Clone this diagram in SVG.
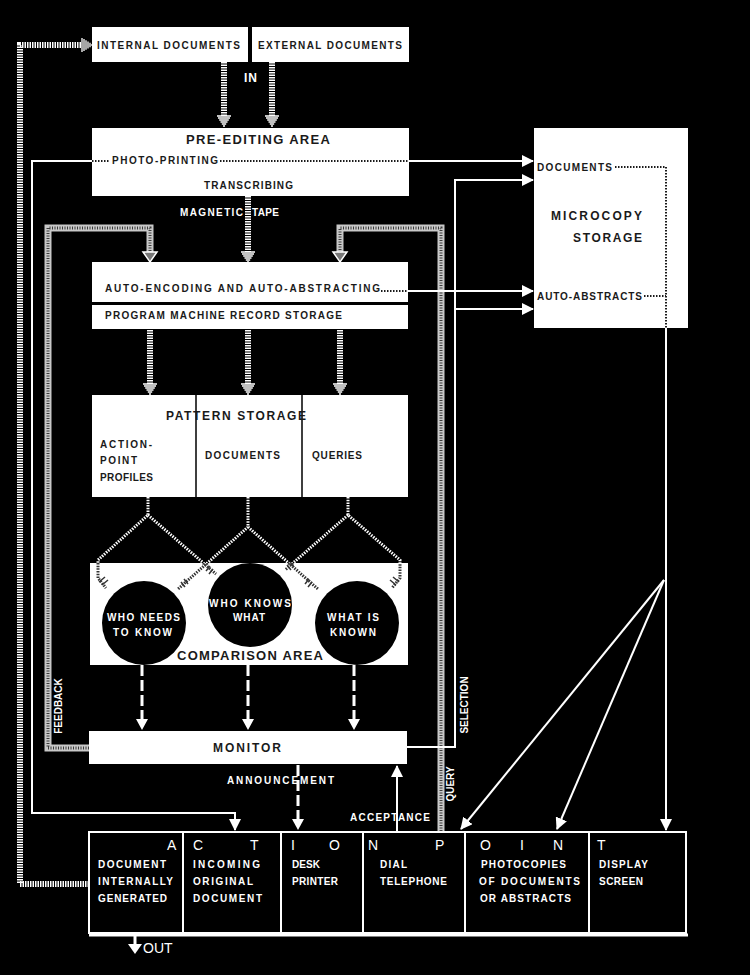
<svg xmlns="http://www.w3.org/2000/svg" xmlns:xlink="http://www.w3.org/1999/xlink" width="750" height="975" viewBox="0 0 750 975">
<style>
.t{font-family:"Liberation Sans",Arial,sans-serif;font-weight:bold;font-size:10px;fill:#1a1a1a}
.w{fill:#fff}
.n{font-weight:normal}
.s12{font-size:12px}
.s13{font-size:13px}
.s14{font-size:14px}
.box{fill:#fff}
.thin{stroke:#fff;stroke-width:2;fill:none}
.dotk{stroke:#1a1a1a;stroke-width:2;stroke-dasharray:1.5 1.5;fill:none}
.dotc{stroke:#fff;stroke-width:3;stroke-dasharray:1.5 1.2;fill:none}
.dotck{stroke:#333;stroke-width:3;stroke-dasharray:1.5 1.2;fill:none}
.ladder{stroke:#fff;stroke-width:6;stroke-dasharray:1.5 1;fill:none}
.dash{stroke:#fff;stroke-width:3;stroke-dasharray:11 4;fill:none}
.dblA{stroke:#c8c8c8;stroke-width:7;fill:none}
.dblB{stroke:#3a3a3a;stroke-width:3;stroke-dasharray:1 1.5;fill:none}
.tick{stroke:#333;stroke-width:1.5;fill:none}
</style>
<defs>
<marker id="ah" markerUnits="userSpaceOnUse" markerWidth="12" markerHeight="12" viewBox="0 0 12 12" refX="11" refY="6" orient="auto">
<path d="M0,0 L12,6 L0,12 z" fill="#fff"/>
</marker>
<g id="lh"><path d="M-7,-10h14M-6,-8h12M-4.8,-6h9.6M-3.5,-4h7M-2.2,-2h4.4M-1,0h2" stroke="#fff" stroke-width="1.3"/></g>
<clipPath id="cmpclip"><rect x="90" y="563" width="318" height="102"/></clipPath>
</defs>
<rect width="750" height="975" fill="#000"/>

<g id="connectors">
<path class="ladder" d="M224,62V116M272,62V116"/>
<use xlink:href="#lh" x="224" y="126"/>
<use xlink:href="#lh" x="272" y="126"/>
<path class="ladder" d="M248,196V252"/>
<use xlink:href="#lh" x="248" y="262"/>
<path class="ladder" d="M150,330V384M248,330V384M340,330V384"/>
<use xlink:href="#lh" x="150" y="394"/>
<use xlink:href="#lh" x="248" y="394"/>
<use xlink:href="#lh" x="340" y="394"/>
<path class="ladder" d="M89,884H20V45H82"/>
<use xlink:href="#lh" transform="translate(92,45) rotate(-90)"/>
<path class="dblA" d="M89,748H48V228H150V252"/>
<path class="dblB" d="M89,748H48V228H150V252"/>
<polygon points="143,252 157,252 150,262" fill="#777" stroke="#fff" stroke-width="1.5"/>
<path class="dblA" d="M441,831V228H340V252"/>
<path class="dblB" d="M441,831V228H340V252"/>
<polygon points="333,252 347,252 340,262" fill="#777" stroke="#fff" stroke-width="1.5"/>
<path class="thin" d="M409,161H533" marker-end="url(#ah)"/>
<path class="thin" d="M92,161H32V813H235V830" marker-end="url(#ah)"/>
<path class="thin" d="M408,291H533" marker-end="url(#ah)"/>
<path class="thin" d="M407,747H455V180H533" marker-end="url(#ah)"/>
<path class="thin" d="M455,309H533" marker-end="url(#ah)"/>
<path class="thin" d="M666,328V830" marker-end="url(#ah)"/>
<path class="thin" d="M664,580L461,829" marker-end="url(#ah)"/>
<path class="thin" d="M664,580L557,829" marker-end="url(#ah)"/>
<path class="dash" d="M142,665V720M248,665V720M354,665V720"/>
<path d="M136,719h12l-6,11z M242,719h12l-6,11z M348,719h12l-6,11z" fill="#fff"/>
<path class="dash" d="M298,765V820"/>
<path d="M292,819h12l-6,11z" fill="#fff"/>
<path class="thin" d="M397,831V766" marker-end="url(#ah)"/>
<path d="M135,935V946" stroke="#fff" stroke-width="3"/>
<path d="M128,944h14l-7,10z" fill="#fff"/>
</g>

<g id="internal-documents">
<rect class="box" x="92" y="27" width="156" height="35"/>
<text class="t" x="97" y="49" textLength="143">INTERNAL DOCUMENTS</text>
</g>
<g id="external-documents">
<rect class="box" x="252" y="27" width="157" height="35"/>
<text class="t" x="258" y="49" textLength="144">EXTERNAL DOCUMENTS</text>
</g>
<text class="t w s12" x="244" y="82" textLength="13">IN</text>

<g id="pre-editing-area">
<rect class="box" x="92" y="128" width="317" height="68"/>
<text class="t s13" x="186" y="144" textLength="144">PRE-EDITING AREA</text>
<path class="dotk" d="M92,161H110M220,161H409"/>
<text class="t" x="112" y="164" textLength="106">PHOTO-PRINTING</text>
<text class="t" x="204" y="189" textLength="89">TRANSCRIBING</text>
</g>
<text class="t w" x="180" y="216" textLength="63">MAGNETIC</text>
<text class="t w" x="252" y="216" textLength="27">TAPE</text>

<g id="microcopy-storage">
<rect class="box" x="534" y="128" width="154" height="200"/>
<text class="t" x="537" y="171" textLength="75">DOCUMENTS</text>
<text class="t s12" x="551" y="220" textLength="91">MICROCOPY</text>
<text class="t s12" x="573" y="242" textLength="69">STORAGE</text>
<text class="t" x="537" y="300" textLength="105">AUTO-ABSTRACTS</text>
<path class="dotk" d="M615,167H666V328M644,296H666"/>
</g>

<g id="auto-encoding">
<rect class="box" x="92" y="262" width="316" height="40"/>
<text class="t" x="105" y="292" textLength="275">AUTO-ENCODING AND AUTO-ABSTRACTING</text>
<path class="dotk" d="M381,291H408"/>
</g>
<g id="program-machine-record-storage">
<rect class="box" x="92" y="305" width="316" height="24"/>
<text class="t" x="105" y="319" textLength="237">PROGRAM MACHINE RECORD STORAGE</text>
</g>

<g id="pattern-storage">
<rect class="box" x="92" y="395" width="316" height="102"/>
<path d="M196,395V497M302,395V497" stroke="#000" stroke-width="1.5"/>
<text class="t s12" x="166" y="420" textLength="140">PATTERN STORAGE</text>
<text class="t" x="100" y="448" textLength="52">ACTION-</text>
<text class="t" x="100" y="464" textLength="37">POINT</text>
<text class="t" x="100" y="481" textLength="53">PROFILES</text>
<text class="t" x="205" y="459" textLength="75">DOCUMENTS</text>
<text class="t" x="312" y="459" textLength="50">QUERIES</text>
</g>

<g id="comparison-area">
<rect class="box" x="90" y="563" width="318" height="102"/>
<text class="t s13" x="177" y="660" textLength="146">COMPARISON AREA</text>
</g>

<g id="pattern-links">
<path class="dotc" d="M148,497V515L98,560V578L106,588M148,515L216,574"/>
<path class="dotc" d="M248,497V527L178,589M248,527L318,589"/>
<path class="dotc" d="M348,497V515L400,560V578L392,588M348,515L285,570"/>
<g clip-path="url(#cmpclip)">
<path class="dotck" d="M148,515L98,560V578L106,588M148,515L216,574"/>
<path class="dotck" d="M248,527L178,589M248,527L318,589"/>
<path class="dotck" d="M348,515L400,560V578L392,588M348,515L285,570"/>
</g>
<path class="tick" d="M99,582l6,-5M102,585l6,-5M210,566l-4,5M213,569l-4,5M181,582l4,5M184,579l4,5M312,582l-4,5M309,579l-4,5M290,562l4,5M287,565l4,5M399,582l-6,-5M396,585l-6,-5"/>
</g>

<g id="who-needs-to-know">
<circle cx="144" cy="623" r="42" fill="#000"/>
<text class="t w" x="107" y="621" textLength="73">WHO NEEDS</text>
<text class="t w" x="113" y="636" textLength="59">TO KNOW</text>
</g>
<g id="who-knows-what">
<circle cx="250" cy="605" r="42" fill="#000"/>
<text class="t w" x="209" y="607" textLength="82">WHO KNOWS</text>
<text class="t w" x="233" y="621" textLength="32">WHAT</text>
</g>
<g id="what-is-known">
<circle cx="357" cy="623" r="42" fill="#000"/>
<text class="t w" x="327" y="621" textLength="52">WHAT IS</text>
<text class="t w" x="330" y="636" textLength="46">KNOWN</text>
</g>

<g id="monitor">
<rect class="box" x="89" y="731" width="318" height="33"/>
<text class="t s12" x="213" y="752" textLength="68">MONITOR</text>
</g>

<text class="t w" transform="translate(62,706) rotate(-90)" text-anchor="middle">FEEDBACK</text>
<text class="t w" transform="translate(454,784) rotate(-90)" text-anchor="middle">QUERY</text>
<text class="t w" transform="translate(468,705) rotate(-90)" text-anchor="middle">SELECTION</text>
<text class="t w" x="227" y="784" textLength="107">ANNOUNCEMENT</text>
<text class="t w" x="350" y="821" textLength="80">ACCEPTANCE</text>

<g id="action-point">
<rect x="89" y="832" width="597" height="101" fill="#000" stroke="#fff" stroke-width="2"/>
<path d="M89,935H688" stroke="#fff" stroke-width="3"/>
<path d="M183,832V933M281,832V933M363,832V933M465,832V933M589,832V933" stroke="#fff" stroke-width="2"/>
<text class="t w n s14" x="167" y="850">A</text>
<text class="t w n s14" x="193" y="850">C</text>
<text class="t w n s14" x="250" y="850">T</text>
<text class="t w n s14" x="291" y="850">I</text>
<text class="t w n s14" x="329" y="850">O</text>
<text class="t w n s14" x="368" y="850">N</text>
<text class="t w n s14" x="435" y="850">P</text>
<text class="t w n s14" x="480" y="850">O</text>
<text class="t w n s14" x="520" y="850">I</text>
<text class="t w n s14" x="553" y="850">N</text>
<text class="t w n s14" x="597" y="850">T</text>
<text class="t w" x="98" y="868" textLength="68">DOCUMENT</text>
<text class="t w" x="98" y="885" textLength="75">INTERNALLY</text>
<text class="t w" x="98" y="902" textLength="69">GENERATED</text>
<text class="t w" x="193" y="868" textLength="67">INCOMING</text>
<text class="t w" x="193" y="885" textLength="60">ORIGINAL</text>
<text class="t w" x="193" y="902" textLength="69">DOCUMENT</text>
<text class="t w" x="292" y="868" textLength="28">DESK</text>
<text class="t w" x="292" y="885" textLength="46">PRINTER</text>
<text class="t w" x="380" y="868" textLength="27">DIAL</text>
<text class="t w" x="380" y="885" textLength="67">TELEPHONE</text>
<text class="t w" x="481" y="868" textLength="85">PHOTOCOPIES</text>
<text class="t w" x="479" y="885" textLength="101">OF DOCUMENTS</text>
<text class="t w" x="480" y="902" textLength="91">OR ABSTRACTS</text>
<text class="t w" x="599" y="868" textLength="49">DISPLAY</text>
<text class="t w" x="599" y="885" textLength="44">SCREEN</text>
</g>
<text class="t w n s14" x="143" y="953">OUT</text>
</svg>
